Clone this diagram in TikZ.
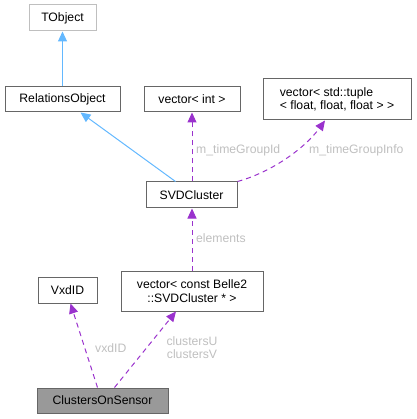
\documentclass[tikz,border=0pt]{standalone}
\usepackage{fontspec}
\setmainfont{Liberation Sans}
\usetikzlibrary{arrows.meta,calc}
\definecolor{inh}{HTML}{63B8FF}
\definecolor{use}{HTML}{9A32CD}
\definecolor{lbl}{HTML}{BFBFBF}
\definecolor{bord}{HTML}{666666}
\begin{document}
\begin{tikzpicture}[x=1pt,y=-1pt,
  box/.style={draw=bord,line width=1pt,fill=white,inner sep=0pt,font=\fontsize{12.2}{13.5}\selectfont},
  edgelbl/.style={text=lbl,inner sep=0pt,font=\fontsize{12.2}{13.5}\selectfont},
  inhline/.style={draw=inh,line width=1pt,-{Triangle[length=10pt,width=9pt]}},
  useline/.style={draw=use,line width=1pt,dash pattern=on 5pt off 4pt,-{Triangle[length=10pt,width=9pt]}}]
\useasboundingbox (0,0) rectangle (416,419);
\node[box,draw=lbl,minimum width=67pt,minimum height=26pt] (tobj) at (62.5,18) {TObject};
\node[box,minimum width=115pt,minimum height=25pt] (rel) at (62.5,99.5) {RelationsObject};
\node[box,minimum width=96pt,minimum height=25pt] (vint) at (192,99.5) {vector< int >};
\node[box,minimum width=148pt,minimum height=41pt,align=left] (vtup) at (337,99.5) {vector< std::tuple\\< float, float, float > >};
\node[box,minimum width=91pt,minimum height=26pt] (svd) at (191.5,195) {SVDCluster};
\node[box,minimum width=59pt,minimum height=26pt] (vxd) at (67.5,290) {VxdID};
\node[box,minimum width=142pt,minimum height=40pt,align=center] (vcst) at (192,291) {vector< const Belle2\\::SVDCluster * >};
\node[box,fill=black!40,minimum width=131pt,minimum height=25pt] (cos) at (102.5,400.5) {ClustersOnSensor};

\draw[inhline] (rel.north) -- (tobj.south);
\draw[inhline] ([xshift=-16pt]svd.north) -- ([xshift=18pt]rel.south);
\draw[useline] ([xshift=0.5pt]svd.north) -- (vint.south);
\draw[useline] (svd.north east) .. controls (272,172) and (305,148) .. ([xshift=-12pt]vtup.south);
\draw[useline] (vcst.north) -- ([xshift=0.5pt]svd.south);
\draw[useline] ([xshift=-5pt]cos.north) -- ([xshift=3pt]vxd.south);
\draw[useline] ([xshift=12pt]cos.north) -- ([xshift=-16pt]vcst.south);

\node[edgelbl,anchor=west] (l1) at (196,150) {m\_timeGroupId};
\node[edgelbl,anchor=west] (l2) at (309,150) {m\_timeGroupInfo};
\node[edgelbl,anchor=west] (l3) at (196,238) {elements};
\node[edgelbl,anchor=west] (l4) at (95,348) {vxdID};
\node[edgelbl,align=center] (l5) at (192,347.5) {clustersU\\clustersV};
\end{tikzpicture}
\end{document}
